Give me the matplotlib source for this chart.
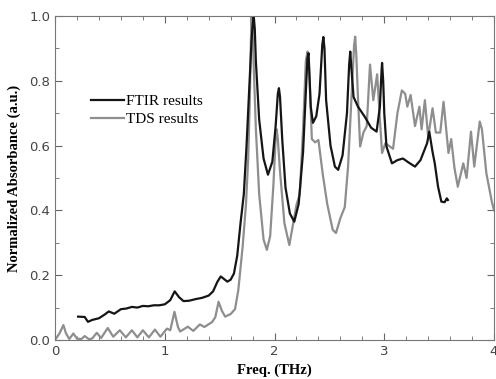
import matplotlib.pyplot as plt
from matplotlib.ticker import MultipleLocator

# FTIR results (black)
ftir_f = [0.21, 0.27, 0.30, 0.34, 0.40, 0.45, 0.49, 0.54, 0.60, 0.65, 0.70, 0.75,
          0.80, 0.85, 0.90, 0.95, 1.00, 1.05, 1.09, 1.13, 1.17, 1.22, 1.28, 1.34,
          1.40, 1.44, 1.48, 1.51, 1.54, 1.57, 1.60, 1.63, 1.66, 1.69, 1.72, 1.745,
          1.77, 1.79, 1.80, 1.81, 1.82, 1.83, 1.86, 1.90, 1.94, 1.98, 2.01, 2.03,
          2.04, 2.05, 2.07, 2.10, 2.14, 2.18, 2.22, 2.26, 2.29, 2.30, 2.31, 2.33,
          2.35, 2.38, 2.41, 2.435, 2.445, 2.455, 2.47, 2.51, 2.55, 2.58, 2.62, 2.66,
          2.68, 2.69, 2.70, 2.72, 2.76, 2.82, 2.88, 2.93, 2.96, 2.975, 2.98, 2.99,
          3.00, 3.02, 3.07, 3.12, 3.17, 3.22, 3.28, 3.33, 3.39, 3.41, 3.44, 3.46,
          3.49, 3.52, 3.55, 3.57, 3.58]
ftir_a = [0.072, 0.071, 0.056, 0.062, 0.067, 0.078, 0.088, 0.081, 0.095, 0.097, 0.102, 0.100,
          0.105, 0.104, 0.107, 0.107, 0.110, 0.123, 0.150, 0.132, 0.120, 0.121, 0.126, 0.130,
          0.137, 0.150, 0.180, 0.196, 0.188, 0.180, 0.186, 0.205, 0.26, 0.36, 0.45, 0.60,
          0.78, 0.92, 0.97, 1.00, 0.96, 0.86, 0.68, 0.56, 0.51, 0.55, 0.66, 0.76,
          0.777, 0.75, 0.62, 0.47, 0.39, 0.365, 0.42, 0.58, 0.80, 0.87, 0.885, 0.72,
          0.67, 0.69, 0.76, 0.91, 0.935, 0.90, 0.74, 0.60, 0.535, 0.525, 0.57, 0.70,
          0.85, 0.89, 0.84, 0.75, 0.72, 0.69, 0.655, 0.643, 0.72, 0.83, 0.855, 0.80,
          0.70, 0.597, 0.545, 0.555, 0.560, 0.548, 0.535, 0.555, 0.607, 0.643, 0.58, 0.545,
          0.473, 0.427, 0.425, 0.437, 0.432]

# TDS results (gray)
tds_f = [0.00, 0.04, 0.076, 0.10, 0.13, 0.167, 0.20, 0.24, 0.27, 0.31, 0.34, 0.38,
         0.42, 0.48, 0.53, 0.59, 0.645, 0.70, 0.75, 0.80, 0.855, 0.91, 0.96, 1.02,
         1.05, 1.088, 1.12, 1.14, 1.21, 1.26, 1.32, 1.36, 1.43, 1.46, 1.49, 1.52,
         1.55, 1.60, 1.64, 1.67, 1.71, 1.74, 1.76, 1.775, 1.785, 1.79, 1.80, 1.81,
         1.83, 1.86, 1.90, 1.93, 1.96, 1.99, 2.01, 2.02, 2.03, 2.05, 2.09, 2.135,
         2.17, 2.20, 2.23, 2.26, 2.285, 2.30, 2.31, 2.32, 2.34, 2.37, 2.40, 2.44,
         2.48, 2.53, 2.56, 2.60, 2.64, 2.67, 2.70, 2.725, 2.735, 2.745, 2.76, 2.78,
         2.81, 2.84, 2.87, 2.90, 2.935, 2.96, 2.98, 3.01, 3.08, 3.12, 3.16, 3.19,
         3.21, 3.24, 3.28, 3.32, 3.34, 3.37, 3.40, 3.44, 3.47, 3.51, 3.54, 3.585,
         3.61, 3.64, 3.67, 3.72, 3.75, 3.79, 3.82, 3.87, 3.89, 3.93, 3.98, 4.00]
tds_a = [0.0, 0.02, 0.046, 0.02, 0.003, 0.02, 0.004, 0.003, 0.012, 0.002, 0.005, 0.022,
         0.006, 0.037, 0.01, 0.03, 0.008, 0.03, 0.008, 0.03, 0.008, 0.032, 0.01, 0.035,
         0.03, 0.087, 0.04, 0.026, 0.041, 0.028, 0.048, 0.04, 0.055, 0.07, 0.118, 0.09,
         0.072, 0.08, 0.095, 0.154, 0.29, 0.42, 0.56, 0.75, 0.93, 1.00, 0.95, 0.85,
         0.65, 0.45, 0.31, 0.278, 0.32, 0.48, 0.62, 0.65, 0.62, 0.52, 0.36, 0.293,
         0.36, 0.417, 0.45, 0.65, 0.86, 0.89, 0.87, 0.80, 0.62, 0.61, 0.617, 0.51,
         0.42, 0.34, 0.33, 0.376, 0.41, 0.535, 0.74, 0.91, 0.936, 0.88, 0.75, 0.597,
         0.64, 0.66, 0.85, 0.74, 0.82, 0.68, 0.577, 0.607, 0.59, 0.70, 0.77, 0.76,
         0.72, 0.756, 0.66, 0.72, 0.65, 0.74, 0.627, 0.715, 0.64, 0.64, 0.735, 0.577,
         0.62, 0.53, 0.473, 0.545, 0.50, 0.643, 0.535, 0.674, 0.65, 0.515, 0.427, 0.40]

fig = plt.figure(figsize=(4.96, 3.79), dpi=100)
ax = fig.add_axes([0.111, 0.103, 0.885, 0.855])

ax.plot(tds_f, tds_a, color='#8e8e8e', lw=1.6, label='TDS results', solid_joinstyle='round')
ax.plot(ftir_f, ftir_a, color='#151515', lw=1.6, label='FTIR results', solid_joinstyle='round')

ax.set_xlim(0, 4)
ax.set_ylim(0, 1.0)
ax.xaxis.set_major_locator(MultipleLocator(1))
ax.xaxis.set_minor_locator(MultipleLocator(0.2))
ax.yaxis.set_major_locator(MultipleLocator(0.2))
ax.yaxis.set_minor_locator(MultipleLocator(0.1))
ax.set_yticklabels(['%.1f' % v for v in ax.get_yticks()])
ax.tick_params(which='both', direction='in', top=True, right=True, color='#666666',
               labelcolor='#444444', labelsize=9.5)
ax.tick_params(which='major', length=5)
ax.tick_params(which='minor', length=3)
for s in ax.spines.values():
    s.set_color('#777777')

ax.set_xlabel('Freq. (THz)', fontfamily='Liberation Serif', fontweight='bold', fontsize=10.5)
ax.set_ylabel('Normalized Absorbance (a.u.)', fontfamily='Liberation Serif', fontweight='bold',
              fontsize=10.5, labelpad=6)

h, l = ax.get_legend_handles_labels()
ax.legend(h[::-1], l[::-1], loc='upper left', bbox_to_anchor=(0.05, 0.8), frameon=False,
          prop={'family': 'Liberation Serif', 'size': 11}, handlelength=2.2,
          handletextpad=0.1, labelspacing=0.3)

fig.savefig('out.png', dpi=100)
